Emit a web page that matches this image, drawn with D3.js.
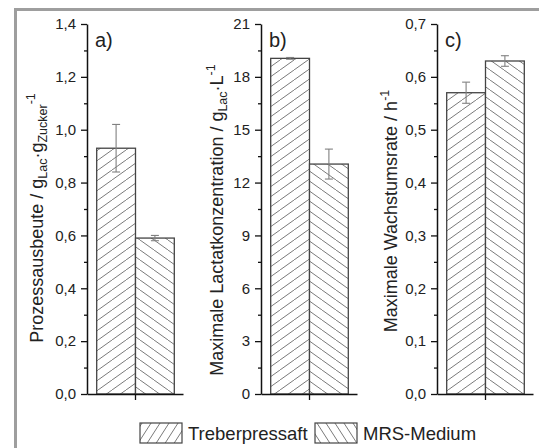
<!DOCTYPE html>
<html><head><meta charset="utf-8">
<script src="https://cdn.jsdelivr.net/npm/d3@7"></script>
<style>
html,body{margin:0;padding:0;background:#fff;}
svg{display:block;}
text{font-family:"Liberation Sans",Arial,sans-serif;fill:#222;}
</style></head><body>
<script>
// ---- data ----
const panelLabels = ["a)", "b)", "c)"];
const groups = ["Treberpressaft", "MRS-Medium"];
const treberValues = [0.93, 19.05, 0.57];
const treberErrors = [0.09, 0.05, 0.02];
const mrsValues = [0.59, 13.05, 0.63];
const mrsErrors = [0.01, 0.85, 0.01];
const yMaxima = [1.4, 21, 0.7];
const majorTicks = [
  [0, 0.2, 0.4, 0.6, 0.8, 1.0, 1.2, 1.4],
  [0, 3, 6, 9, 12, 15, 18, 21],
  [0, 0.1, 0.2, 0.3, 0.4, 0.5, 0.6, 0.7]
];
const tickLabels = [
  ["0,0", "0,2", "0,4", "0,6", "0,8", "1,0", "1,2", "1,4"],
  ["0", "3", "6", "9", "12", "15", "18", "21"],
  ["0,0", "0,1", "0,2", "0,3", "0,4", "0,5", "0,6", "0,7"]
];
// title parts: [text, kind] kind: n normal, sub, sup
const titles = [
  [["Prozessausbeute / g","n"],["Lac","sub"],["·g","n"],["Zucker","sub"],["-1","sup"]],
  [["Maximale Lactatkonzentration / g","n"],["Lac","sub"],["·L","n"],["-1","sup"]],
  [["Maximale Wachstumsrate / h","n"],["-1","sup"]]
];

// ---- layout ----
const W = 539, H = 448;
const axisX = [87, 261, 437];
const axisLen = 96;
const yTop = 24, yBot = 394;
const titleBase = [43, 223, 397];
const titleMid = [218, 220, 211];

const svg = d3.select("body").append("svg").attr("width", W).attr("height", H);

// patterns
const defs = svg.append("defs");
function hatch(id, w, h, dir) {
  const p = defs.append("pattern").attr("id", id)
    .attr("patternUnits", "userSpaceOnUse").attr("width", w).attr("height", h);
  p.append("rect").attr("width", w).attr("height", h).attr("fill", "#fff");
  const lines = dir > 0
    ? [[0, h, w, 0], [-w, h, 0, 0], [w, h, 2 * w, 0]]
    : [[0, 0, w, h], [-w, 0, 0, h], [w, 0, 2 * w, h]];
  lines.forEach(l => p.append("line")
    .attr("x1", l[0]).attr("y1", l[1]).attr("x2", l[2]).attr("y2", l[3])
    .attr("stroke", "#7a7a7a").attr("stroke-width", 1));
}
hatch("pT", 14, 10, 1);
hatch("pM", 14, 10, -1);
hatch("lT", 9, 14, 1);
hatch("lM", 9, 14, -1);
const fills = ["url(#pT)", "url(#pM)"];
const legendFills = ["url(#lT)", "url(#lM)"];

// gray frame
svg.append("path").attr("d", `M15.5,${H + 5} L15.5,9.5 L${W + 5},9.5`)
  .attr("fill", "none").attr("stroke", "#9e9e9e").attr("stroke-width", 3);

panelLabels.forEach((lab, i) => {
  const x0 = axisX[i];
  const g = svg.append("g");
  const y = d3.scaleLinear().domain([0, yMaxima[i]]).range([yBot, yTop]);
  const x = d3.scaleBand().domain(groups).range([x0 + 9.7, x0 + 87.3]).padding(0);
  const vals = [treberValues[i], mrsValues[i]];
  const errs = [treberErrors[i], mrsErrors[i]];

  // bars
  g.selectAll("rect.bar").data(groups).join("rect")
    .attr("x", d => x(d)).attr("width", x.bandwidth())
    .attr("y", (d, j) => y(vals[j])).attr("height", (d, j) => y(0) - y(vals[j]))
    .attr("fill", (d, j) => fills[j]).attr("stroke", "#444").attr("stroke-width", 1.3);

  // error bars
  groups.forEach((d, j) => {
    const cx = x(d) + x.bandwidth() / 2;
    const eg = g.append("g").attr("stroke", "#808080").attr("stroke-width", 1.1);
    eg.append("line").attr("x1", cx).attr("x2", cx)
      .attr("y1", y(vals[j] + errs[j])).attr("y2", y(vals[j] - errs[j]));
    [vals[j] + errs[j], vals[j] - errs[j]].forEach(v =>
      eg.append("line").attr("x1", cx - 4).attr("x2", cx + 4).attr("y1", y(v)).attr("y2", y(v)));
  });

  // minor ticks
  const step = majorTicks[i][1] - majorTicks[i][0];
  const minors = majorTicks[i].slice(0, -1).map(v => v + step / 2);
  g.append("g").attr("transform", `translate(${x0},0)`)
    .call(d3.axisLeft(y).tickValues(minors).tickSize(3).tickFormat("").tickSizeOuter(0))
    .call(a => a.select(".domain").remove())
    .call(a => a.selectAll("line").attr("stroke", "#111").attr("stroke-width", 1.3));

  // y axis
  g.append("g").attr("transform", `translate(${x0},0)`)
    .call(d3.axisLeft(y).tickValues(majorTicks[i]).tickSize(6).tickPadding(5)
      .tickFormat((d, k) => tickLabels[i][k]).tickSizeOuter(0))
    .call(a => a.select(".domain").attr("stroke", "#111").attr("stroke-width", 1.5))
    .call(a => a.selectAll("line").attr("stroke", "#111").attr("stroke-width", 1.3))
    .call(a => a.selectAll("text").attr("font-size", 15).attr("fill", "#333")
      .attr("font-family", "Liberation Sans, Arial, sans-serif"));

  // x axis
  const xl = d3.scaleLinear().domain([0, 1]).range([x0, x0 + axisLen]);
  g.append("g").attr("transform", `translate(0,${yBot})`)
    .call(d3.axisBottom(xl).tickValues([0.5]).tickSize(6).tickFormat("").tickSizeOuter(0))
    .call(a => a.select(".domain").attr("stroke", "#111").attr("stroke-width", 1.5))
    .call(a => a.selectAll("line").attr("stroke", "#111").attr("stroke-width", 1.3));

  // panel label
  g.append("text").attr("x", x0 + 8).attr("y", 47).attr("font-size", 20).attr("fill", "#111").text(lab);

  // y title
  const t = g.append("text").attr("transform", `translate(${titleBase[i]},${titleMid[i]}) rotate(-90)`)
    .attr("text-anchor", "middle").attr("font-size", 18).attr("fill", "#333");
  let shift = 0;
  titles[i].forEach(([s, kind]) => {
    const ts = t.append("tspan").text(s);
    let target = 0;
    if (kind === "sub") { ts.attr("font-size", 12.5); target = 4; }
    else if (kind === "sup") { ts.attr("font-size", 12.5); target = -8; }
    ts.attr("dy", target - shift);
    shift = target;
  });
});

// legend
const legX = [140, 315];
groups.forEach((name, j) => {
  svg.append("rect").attr("x", legX[j]).attr("y", 423).attr("width", 42).attr("height", 20)
    .attr("fill", legendFills[j]).attr("stroke", "#444").attr("stroke-width", 1.2);
  svg.append("text").attr("x", legX[j] + 48).attr("y", 440).attr("font-size", 18.5)
    .attr("fill", "#222").text(name);
});
</script>
</body></html>
